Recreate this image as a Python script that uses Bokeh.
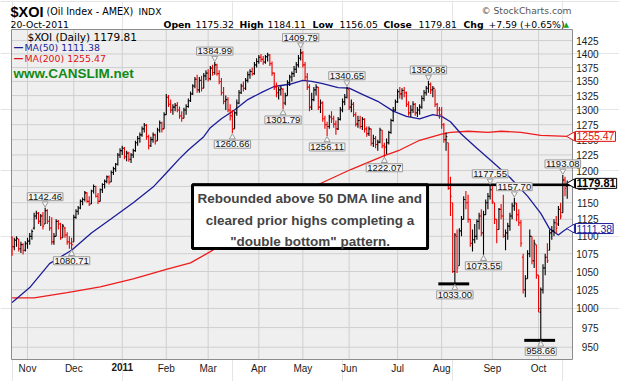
import math
from bokeh.plotting import figure
from bokeh.models import ColumnDataSource, Label, BoxAnnotation, Range1d, LogScale
from bokeh.core.properties import value
from bokeh.embed import file_html
from bokeh.resources import INLINE

# ---------------- data (daily OHLC, 21-Oct-2010 .. 20-Oct-2011) ----------------
high = [
    1100, 1098, 1100, 1096, 1092, 1090, 1093,
    1098, 1105, 1110, 1135, 1138, 1136, 1133, 1136, 1142.46, 1140, 1130, 1128, 1105, 1125, 1124, 1120, 1118, 1114, 1106, 1100, 1098,
    1132, 1140, 1145, 1155, 1158, 1168, 1166, 1160, 1170, 1178, 1176, 1165, 1172, 1180, 1186, 1192, 1192, 1200, 1206, 1212, 1228, 1236,
    1240, 1238, 1232, 1230, 1228, 1235, 1248, 1256, 1262, 1272, 1278, 1276, 1258, 1255, 1262, 1260, 1270, 1282, 1280, 1296,
    1328, 1326, 1318, 1310, 1312, 1314, 1306, 1298, 1304, 1310, 1320, 1332, 1345, 1358, 1362, 1358, 1360, 1365, 1370,
    1372, 1378, 1380, 1384.99, 1382, 1370, 1356, 1340, 1325, 1322, 1310, 1300, 1298, 1318, 1335, 1346, 1350, 1356, 1368, 1372, 1375, 1385, 1392,
    1398, 1400, 1396, 1398, 1402, 1400, 1386, 1366, 1348, 1340, 1342, 1338, 1330, 1352, 1362, 1368, 1378, 1385, 1398, 1409.79,
    1405, 1385, 1365, 1345, 1330, 1340, 1345, 1340, 1318, 1315, 1290, 1280, 1292, 1298, 1290, 1282, 1288, 1305, 1320, 1328, 1340.65,
    1336, 1318, 1314, 1296, 1290, 1290, 1288, 1286, 1272, 1272, 1268, 1258, 1256, 1250, 1270, 1266, 1245, 1252, 1265, 1285, 1305, 1318,
    1336, 1340, 1338, 1340, 1332, 1315, 1308, 1315, 1312, 1305, 1310, 1325, 1335, 1342, 1350.86, 1348, 1342, 1336, 1312, 1305,
    1305, 1278, 1262, 1245, 1190, 1150, 1105, 1110, 1112, 1130, 1160, 1168, 1162, 1125, 1110, 1118, 1125, 1135, 1140, 1138, 1155, 1165, 1177.55,
    1176, 1150, 1125, 1142, 1148, 1162, 1110, 1120, 1135, 1150, 1157.70, 1150, 1140, 1124, 1075, 1045, 1080, 1110, 1100, 1095, 1088,
    1045, 1028, 1060, 1075, 1090, 1110, 1115, 1125, 1130, 1145, 1150, 1193.08, 1190, 1184.11,
]
low = [
    1072, 1080, 1085, 1078, 1076, 1074, 1078,
    1082, 1088, 1095, 1110, 1125, 1118, 1115, 1110, 1118, 1118, 1108, 1088, 1088, 1100, 1110, 1095, 1098, 1098, 1088, 1082, 1080.71,
    1092, 1126, 1132, 1140, 1146, 1152, 1150, 1145, 1148, 1164, 1158, 1148, 1152, 1165, 1172, 1180, 1178, 1182, 1193, 1198, 1208, 1220,
    1225, 1218, 1215, 1214, 1212, 1220, 1230, 1240, 1245, 1255, 1262, 1250, 1234, 1238, 1245, 1242, 1248, 1262, 1262, 1268,
    1292, 1305, 1295, 1292, 1298, 1296, 1285, 1280, 1286, 1292, 1304, 1314, 1326, 1338, 1330, 1330, 1332, 1338, 1352,
    1350, 1352, 1360, 1362, 1360, 1345, 1325, 1310, 1300, 1296, 1282, 1260.66, 1268, 1290, 1310, 1328, 1332, 1335, 1348, 1355, 1360, 1362, 1375,
    1382, 1385, 1380, 1382, 1386, 1378, 1360, 1335, 1322, 1318, 1325, 1301.79, 1308, 1325, 1342, 1350, 1358, 1365, 1375, 1388,
    1375, 1352, 1335, 1298, 1300, 1315, 1325, 1300, 1295, 1280, 1268, 1256.11, 1268, 1278, 1270, 1258, 1266, 1282, 1296, 1308, 1320,
    1300, 1296, 1288, 1272, 1270, 1268, 1266, 1262, 1255, 1256, 1240, 1238, 1236, 1232, 1244, 1236, 1222.07, 1226, 1242, 1260, 1280, 1298,
    1312, 1320, 1318, 1322, 1305, 1290, 1288, 1295, 1290, 1288, 1292, 1302, 1315, 1325, 1330, 1328, 1322, 1305, 1290, 1285,
    1268, 1245, 1232, 1170, 1130, 1048, 1033.00, 1048, 1058, 1100, 1125, 1140, 1120, 1085, 1078, 1090, 1095, 1110, 1100, 1073.55, 1132, 1140, 1155,
    1148, 1118, 1090, 1110, 1125, 1098, 1080, 1095, 1108, 1125, 1138, 1122, 1115, 1085, 1020, 1015, 1040, 1070, 1060, 1055, 1040,
    995, 958.66, 1020, 1045, 1062, 1080, 1095, 1100, 1105, 1115, 1125, 1135, 1160, 1156.05,
]
open_ = [
    1098, 1085, 1094, 1096, 1082, 1088, 1080,
    1090, 1093, 1100, 1112, 1130, 1134, 1122, 1130, 1118, 1138, 1122, 1112, 1092, 1100, 1122, 1118, 1098, 1112, 1102, 1092, 1090,
    1092, 1128, 1137, 1142, 1152, 1155, 1165, 1152, 1148, 1168, 1175, 1160, 1152, 1170, 1178, 1183, 1190, 1182, 1197, 1203, 1210, 1225,
    1232, 1236, 1222, 1228, 1218, 1225, 1232, 1245, 1252, 1258, 1268, 1274, 1255, 1240, 1250, 1258, 1248, 1266, 1278, 1268,
    1292, 1322, 1310, 1300, 1305, 1308, 1300, 1290, 1286, 1300, 1306, 1316, 1328, 1342, 1354, 1335, 1352, 1338, 1360,
    1365, 1355, 1374, 1366, 1380, 1364, 1350, 1330, 1315, 1318, 1300, 1290, 1268, 1295, 1312, 1330, 1342, 1338, 1352, 1362, 1368, 1364, 1380,
    1386, 1394, 1390, 1385, 1395, 1398, 1382, 1365, 1340, 1330, 1335, 1336, 1312, 1325, 1348, 1358, 1364, 1372, 1380, 1392,
    1402, 1380, 1358, 1340, 1305, 1318, 1335, 1340, 1305, 1312, 1285, 1275, 1272, 1288, 1285, 1276, 1268, 1284, 1300, 1314, 1322,
    1336, 1305, 1310, 1292, 1276, 1282, 1272, 1284, 1268, 1260, 1268, 1244, 1252, 1242, 1246, 1266, 1240, 1238, 1245, 1262, 1282, 1300,
    1314, 1332, 1328, 1334, 1330, 1310, 1295, 1300, 1310, 1295, 1300, 1305, 1320, 1330, 1338, 1345, 1335, 1338, 1310, 1300,
    1300, 1275, 1250, 1245, 1172, 1150, 1050, 1100, 1058, 1108, 1125, 1155, 1150, 1125, 1090, 1095, 1100, 1122, 1130, 1105, 1132, 1150, 1160,
    1170, 1150, 1125, 1110, 1140, 1130, 1100, 1105, 1115, 1130, 1145, 1148, 1132, 1120, 1070, 1025, 1040, 1075, 1100, 1065, 1088,
    1045, 995, 1025, 1055, 1070, 1080, 1105, 1108, 1120, 1118, 1140, 1135, 1185, 1175.32,
]
close = [
    1085, 1095, 1097, 1082, 1088, 1080, 1089,
    1093, 1100, 1107, 1130, 1134, 1122, 1130, 1115, 1138, 1122, 1112, 1092, 1100, 1122, 1118, 1098, 1115, 1102, 1092, 1090, 1088,
    1128, 1137, 1142, 1152, 1155, 1165, 1152, 1148, 1168, 1175, 1160, 1152, 1170, 1178, 1183, 1190, 1182, 1197, 1203, 1210, 1225, 1232,
    1236, 1222, 1228, 1218, 1225, 1232, 1245, 1252, 1258, 1268, 1274, 1255, 1240, 1250, 1258, 1248, 1266, 1278, 1268, 1292,
    1322, 1310, 1300, 1305, 1308, 1300, 1290, 1286, 1300, 1306, 1316, 1328, 1342, 1354, 1335, 1352, 1338, 1360, 1365,
    1355, 1374, 1366, 1380, 1364, 1350, 1330, 1315, 1318, 1300, 1290, 1268, 1295, 1312, 1330, 1342, 1338, 1352, 1362, 1368, 1364, 1380, 1386,
    1394, 1390, 1385, 1395, 1398, 1382, 1365, 1340, 1330, 1335, 1338, 1312, 1325, 1348, 1358, 1364, 1372, 1380, 1392, 1402,
    1380, 1358, 1340, 1305, 1318, 1335, 1340, 1305, 1312, 1285, 1275, 1272, 1288, 1285, 1276, 1268, 1284, 1300, 1314, 1322, 1338,
    1305, 1310, 1292, 1276, 1282, 1272, 1284, 1268, 1260, 1268, 1244, 1252, 1242, 1246, 1266, 1240, 1238, 1245, 1262, 1282, 1300, 1314,
    1332, 1328, 1334, 1330, 1310, 1295, 1300, 1310, 1295, 1300, 1305, 1320, 1330, 1338, 1345, 1335, 1338, 1310, 1300, 1292,
    1275, 1250, 1255, 1172, 1160, 1050, 1102, 1055, 1108, 1125, 1155, 1150, 1125, 1090, 1095, 1100, 1122, 1130, 1105, 1132, 1150, 1160, 1170,
    1152, 1125, 1110, 1140, 1130, 1102, 1105, 1115, 1130, 1145, 1150, 1132, 1120, 1090, 1025, 1040, 1075, 1100, 1065, 1090, 1045,
    1000, 1025, 1055, 1070, 1065, 1105, 1108, 1120, 1112, 1140, 1130, 1185, 1172.22, 1179.81,
]

# moving averages at sample bars
ma50_idx = [0, 8, 17, 27, 36, 45, 55, 64, 70, 76, 80, 87, 90, 95, 101, 107, 114, 119, 126, 132, 136,
            141, 148, 153, 159, 166, 173, 179, 185, 191, 195, 199, 204, 211, 218, 226, 234, 240, 244, 248, 250, 252]
ma50_val = [1008, 1028, 1061, 1080, 1105, 1126, 1150, 1174, 1196, 1219, 1233, 1255, 1270, 1285, 1300, 1318, 1332,
            1341, 1345, 1352, 1350, 1346, 1339, 1338, 1327, 1315, 1298, 1289, 1285, 1292, 1289, 1280, 1259, 1236,
            1214, 1189, 1160, 1134, 1111, 1102, 1107, 1111.38]
ma200_idx = [0, 10, 25, 40, 55, 70, 81, 90, 115, 139, 154, 169, 176, 185, 195, 199, 207, 216, 222, 231, 240, 252]
ma200_val = [1014, 1014, 1021, 1029, 1040, 1053, 1062, 1078, 1130, 1178, 1202, 1224, 1233, 1249, 1259, 1262,
             1264, 1262, 1264, 1262, 1257, 1255.47]

# month ticks (bar index of first trading day) and labels
month_idx = [7, 28, 50, 70, 89, 112, 132, 153, 175, 195, 218, 239]
month_lab = ["Nov", "Dec", "2011", "Feb", "Mar", "Apr", "May", "Jun", "Jul", "Aug", "Sep", "Oct"]
price_ticks = [950, 975, 1000, 1025, 1050, 1075, 1100, 1125, 1150, 1175, 1200, 1225, 1250,
               1275, 1300, 1325, 1350, 1375, 1400, 1425]

# annotated highs / lows
mark_idx = [15, 27, 92, 100, 131, 123, 143, 152, 169, 189, 201, 214, 217, 228, 250, 240]
mark_kind = ["H", "L", "H", "L", "H", "L", "L", "H", "L", "H", "L", "L", "H", "H", "H", "L"]

chg = 7.59
chg_pct = 0.65

# ---------------- layout geometry (pixels) ----------------
W, H = 619, 381
FL, FR, FT, FB = 11, 572, 29, 359          # chart panel edges on the page
CH_L, CH_R = -0.27, 254.4                  # chart x extent in bar units
CH_B, CH_T = 934.7, 1446.0                 # chart y extent (log scale)
px_bar = (FR - FL) / (CH_R - CH_L)
px_ln = (FB - FT) / math.log(CH_T / CH_B)
x_start = CH_L - FL / px_bar
x_end = x_start + W / px_bar
y_top = CH_T * math.exp(FT / px_ln)
y_bot = CH_B * math.exp(-(H - FB) / px_ln)

SANS = "Liberation Sans"
VERD = "DejaVu Sans"

p = figure(width=W, height=H, output_backend="svg", toolbar_location=None, title=None,
           x_axis_location=None, y_axis_location=None,
           x_range=Range1d(x_start, x_end), y_range=Range1d(y_bot, y_top),
           min_border=0, background_fill_color="white", border_fill_color="white")
p.y_scale = LogScale()
p.outline_line_color = None

# chart panel and grid
p.quad(left=[CH_L], right=[CH_R], bottom=[CH_B], top=[CH_T], fill_color="#efefef",
       line_color=None)
p.segment(x0=[CH_L] * len(price_ticks), y0=price_ticks, x1=[CH_R] * len(price_ticks), y1=price_ticks,
          line_color="#cfcfcf", line_width=1)
p.segment(x0=month_idx, y0=[CH_B] * len(month_idx), x1=month_idx, y1=[CH_T] * len(month_idx),
          line_color="#cfcfcf", line_width=1)
p.quad(left=[CH_L], right=[CH_R], bottom=[CH_B], top=[CH_T], fill_color=None,
       line_color="#8c8c8c", line_width=1)

# axis labels
p.text(x=[CH_R] * len(price_ticks), y=price_ticks, text=[str(t) for t in price_ticks],
       x_offset=26, text_align="right", text_baseline="middle",
       text_font=value(SANS), text_font_size="10px", text_color="#1a1a1a")
msrc = ColumnDataSource(dict(x=month_idx, y=[CH_B] * len(month_idx), t=month_lab,
                             st=["bold" if m.isdigit() else "normal" for m in month_lab]))
p.text(x="x", y="y", text="t", source=msrc, y_offset=3, text_align="center", text_baseline="top",
       text_font=value(SANS), text_font_size="10px", text_font_style="st", text_color="#1a1a1a")

# moving averages
p.line(ma200_idx, ma200_val, line_color="#ee1c1c", line_width=1.3)
p.line(ma50_idx, ma50_val, line_color="#1c1c99", line_width=1.3)

# OHLC bars
N = len(close)
xs = list(range(N))
prev_close = [open_[0]] + close[:-1]
col = ["#ee0000" if c < pc else "#000000" for c, pc in zip(close, prev_close)]
src = ColumnDataSource(dict(x=xs, xl=[i - 0.55 for i in xs], xr=[i + 0.55 for i in xs],
                            h=high, l=low, o=open_, c=close, col=col))
p.segment("x", "h", "x", "l", line_color="col", line_width=1.1, source=src)
p.segment("xl", "o", "x", "o", line_color="col", line_width=1.1, source=src)
p.segment("x", "c", "xr", "c", line_color="col", line_width=1.1, source=src)

# pivot line and low markers
pivot = high[217]
box_left, box_right, box_bottom = 81.9, 188.6, 1082.4
p.segment([box_left], [pivot], [CH_R], [pivot], line_color="black", line_width=2.5)
for i in (201, 240):
    p.segment([i - 7.5], [low[i]], [i + 6.5], [low[i]], line_color="black", line_width=3)

# callout box
p.add_layout(BoxAnnotation(left=box_left, right=box_right, bottom=box_bottom, top=pivot,
                           fill_color="white", fill_alpha=1.0, line_color="black",
                           line_width=3, line_alpha=1.0, level="annotation"))


def txt(text, px, py, size, color="black", bold=False, font=SANS, align="left", baseline="middle"):
    p.add_layout(Label(x=px, y=H - py, x_units="screen", y_units="screen", text=text,
                       text_font=font, text_font_size=f"{size}px", text_color=color,
                       text_font_style="bold" if bold else "normal",
                       text_align=align, text_baseline=baseline))


box_cx = (box_left + box_right) / 2
for line, py in zip(["Rebounded above 50 DMA line and", "cleared prior highs completing a",
                     "\"double bottom\" pattern."], [198, 220, 241]):
    p.add_layout(Label(x=box_cx, y=H - py, x_units="data", y_units="screen", text=line,
                       text_font=SANS, text_font_size="13.5px", text_font_style="bold",
                       text_align="center", text_baseline="middle"))

# high / low value tags with small pointers
ptr_x, ptr_y, ptr_m = [], [], []
for i, k in zip(mark_idx, mark_kind):
    v = high[i] if k == "H" else low[i]
    ptr_x.append(i)
    ptr_y.append(v * math.exp((4 if k == "H" else -4) / px_ln))
    ptr_m.append("inverted_triangle" if k == "H" else "triangle")
    p.add_layout(Label(x=i, y=v, x_units="data", y_units="data",
                       y_offset=7 if k == "H" else -7, text=f"{v:.2f}",
                       text_font=SANS, text_font_size="9.5px", text_color="#111111",
                       text_align="center", text_baseline="bottom" if k == "H" else "top",
                       background_fill_color="#f6f6f6", border_line_color="#9a9a9a", padding=1))
p.scatter(ptr_x, ptr_y, marker=ptr_m, size=6, fill_color="#f6f6f6", line_color="#9a9a9a",
          line_width=1)

# right side value tags
tags = [(ma200_val[-1], "#dd1111", False), (close[-1], "black", True), (ma50_val[-1], "#1c1c99", False)]
p.scatter([CH_R - 0.3] * 3, [t[0] for t in tags], marker="triangle", angle=math.pi / 2, size=9,
          fill_color="white", line_color=[t[1] for t in tags], line_width=1)
for v, c, b in tags:
    p.add_layout(Label(x=CH_R, y=v, x_units="data", y_units="data", x_offset=3,
                       text=f"{v:.2f}", text_font=SANS, text_font_size="11px" if b else "10.5px",
                       text_color=c, text_font_style="bold" if b else "normal", text_align="left",
                       text_baseline="middle", background_fill_color="white",
                       border_line_color=c, padding=1))

# header
txt("$XOI", 10, 11, 14.5, bold=True)
txt("(Oil Index - AMEX)", 46, 11, 9.6, font=VERD)
txt("INDX", 138, 11, 9.2, font=VERD)
txt("\u00a9 StockCharts.com", 571, 10, 9.2, color="#555555", font=VERD, align="right")
txt("20-Oct-2011", 10, 24, 9.3, font=VERD)
hdr = [("Open", 163, True), (f"{open_[-1]:.2f}", 195, False), ("High", 239, True),
       (f"{high[-1]:.2f}", 267, False), ("Low", 312, True), (f"{low[-1]:.2f}", 339, False),
       ("Close", 383, True), (f"{close[-1]:.2f}", 418, False), ("Chg", 463, True),
       (f"+{chg:.2f} (+{chg_pct:.2f}%)", 488, False)]
for t, px, b in hdr:
    txt(t, px, 24, 9.3, bold=b, font=VERD)
txt("\u25b2", 563, 24, 7, color="#1aa31a", font=VERD)

# in-plot legend
txt(f"$XOI (Daily) {close[-1]:.2f}", 27, 36, 10.5, font=VERD)
txt("\u2014", 13, 47, 10, color="#1c1c99", bold=True, font=VERD)
txt(f"MA(50) {ma50_val[-1]:.2f}", 24, 47, 9.4, color="#1c1c99", font=VERD)
txt("\u2014", 13, 58, 10, color="#dd1111", bold=True, font=VERD)
txt(f"MA(200) {ma200_val[-1]:.2f}", 24, 58, 9.4, color="#dd1111", font=VERD)
txt("www.CANSLIM.net", 13, 73, 13.5, color="#138a13", bold=True)

open("out.html", "w").write(file_html(p, INLINE))
